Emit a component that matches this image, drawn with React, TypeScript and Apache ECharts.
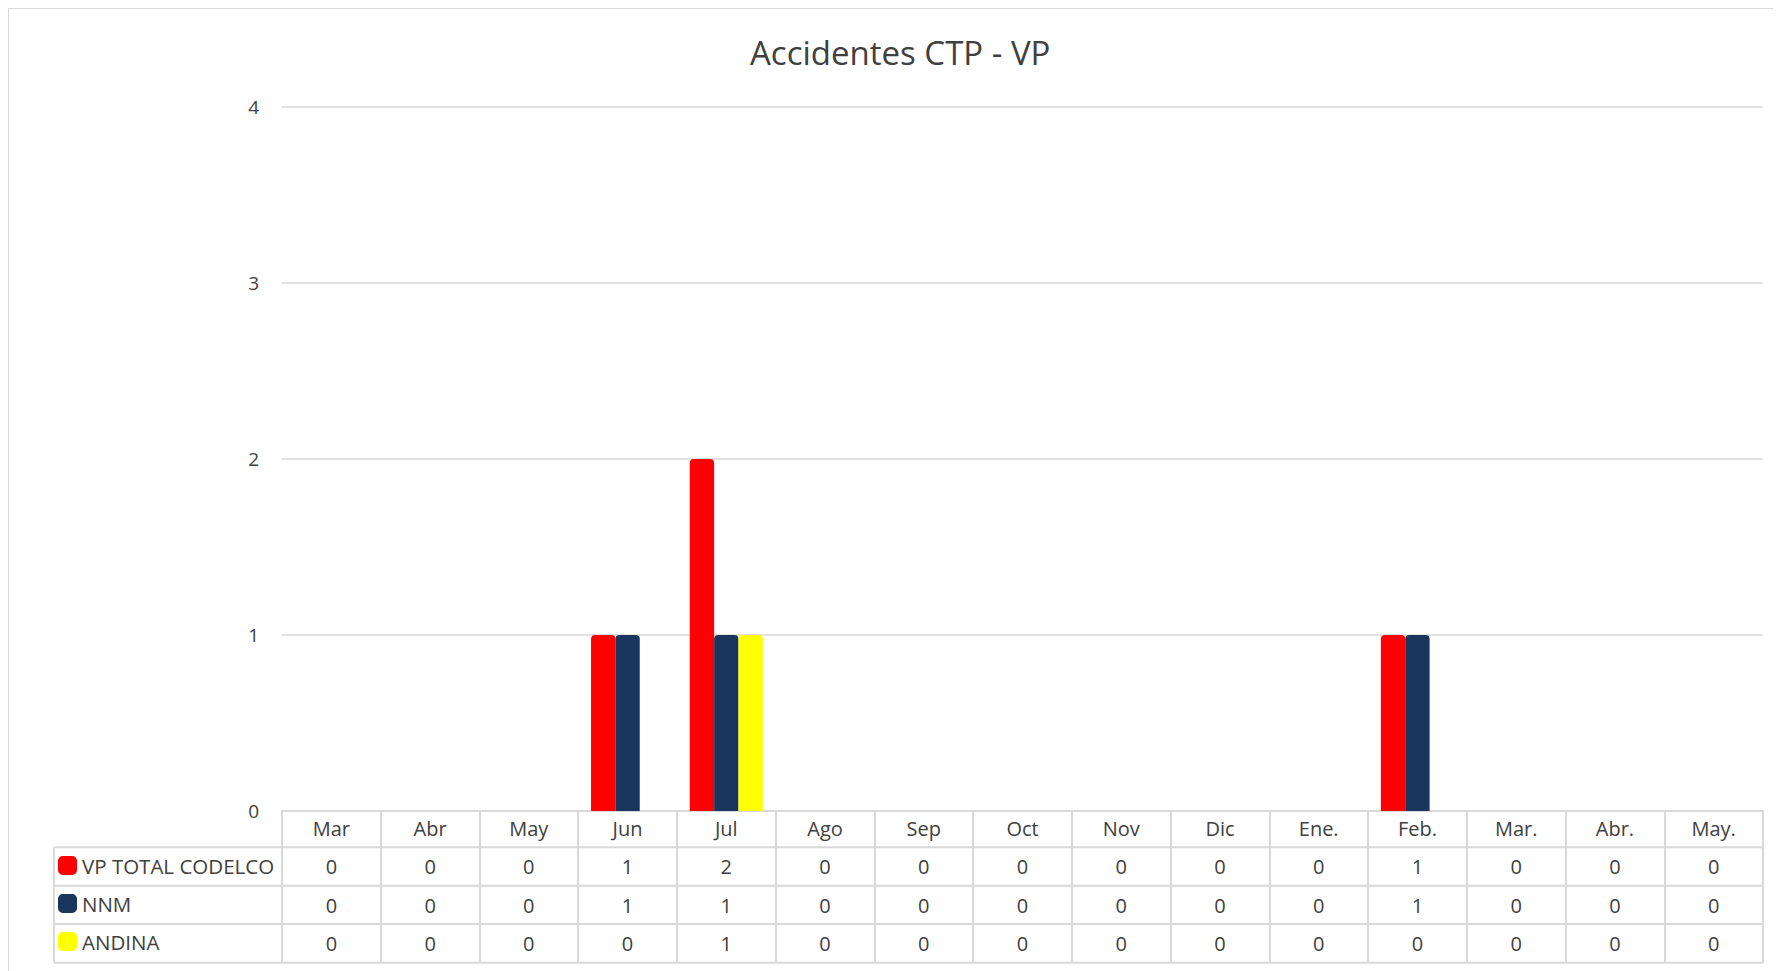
import React, { useEffect, useRef } from 'react';
import * as echarts from 'echarts';

const titleText = 'Accidentes CTP - VP';
const months = ['Mar', 'Abr', 'May', 'Jun', 'Jul', 'Ago', 'Sep', 'Oct', 'Nov', 'Dic', 'Ene.', 'Feb.', 'Mar.', 'Abr.', 'May.'];
const seriesNames = ['VP TOTAL CODELCO', 'NNM', 'ANDINA'];
const vpTotal = [0, 0, 0, 1, 2, 0, 0, 0, 0, 0, 0, 1, 0, 0, 0];
const nnm = [0, 0, 0, 1, 1, 0, 0, 0, 0, 0, 0, 1, 0, 0, 0];
const andina = [0, 0, 0, 0, 1, 0, 0, 0, 0, 0, 0, 0, 0, 0, 0];
const yMin = 0;
const yMax = 4;
const yInterval = 1;

const colors = ['#FF0000', '#1A365D', '#FFFF00'];

export default function App() {
  const ref = useRef<HTMLDivElement>(null);
  useEffect(() => {
    document.documentElement.style.overflow = 'hidden';
    document.body.style.overflow = 'hidden';
    const chart = echarts.init(ref.current!, null, { renderer: 'svg' });
    const font = '"Open Sans", sans-serif';
    const textColor = '#404040';
    const lineColor = '#d9d9d9';
    const rows = [vpTotal, nnm, andina];
    const rowOffsets = [38, 77, 115];
    const gridLeft = 273;
    const gridRightEdge = 1754;
    const tableLeft = 45;
    const rowLines = [838.3, 876.7, 915, 953.7];

    const graphics: any[] = rowLines.map((y) => ({
      type: 'line',
      shape: { x1: tableLeft, y1: y, x2: gridRightEdge, y2: y },
      style: { stroke: lineColor, lineWidth: 2 },
      silent: true,
    }));
    graphics.push({
      type: 'line',
      shape: { x1: tableLeft, y1: rowLines[0], x2: tableLeft, y2: rowLines[3] },
      style: { stroke: lineColor, lineWidth: 2 },
      silent: true,
    });

    const baseLabel = { fontSize: 20, color: textColor, fontFamily: font, lineHeight: 20, margin: 7, interval: 0 };

    chart.setOption({
      animation: false,
      title: {
        text: titleText,
        left: 736,
        top: 22,
        textStyle: { fontSize: 33, fontWeight: 'normal', color: textColor, fontFamily: font, lineHeight: 33 },
      },
      legend: {
        orient: 'vertical',
        left: 49,
        top: 846,
        padding: 0,
        itemWidth: 19,
        itemHeight: 19,
        itemGap: 17,
        icon: 'roundRect',
        selectedMode: false,
        data: seriesNames,
        textStyle: { fontSize: 20.5, lineHeight: 19, color: textColor, fontFamily: font },
      },
      grid: { left: gridLeft, right: 18, top: 98, bottom: 160, containLabel: false },
      xAxis: [
        {
          type: 'category',
          data: months,
          position: 'bottom',
          axisLine: { show: true, lineStyle: { color: lineColor, width: 2 } },
          axisTick: { show: true, length: 152, interval: 0, lineStyle: { color: lineColor, width: 2 } },
          axisLabel: baseLabel,
          splitLine: { show: false },
        },
        ...rows.map((r, i) => ({
          type: 'category',
          data: months,
          position: 'bottom',
          offset: rowOffsets[i],
          axisLine: { show: false },
          axisTick: { show: false },
          splitLine: { show: false },
          axisLabel: { ...baseLabel, formatter: (_v: string, idx: number) => String(r[idx]) },
        })),
      ],
      yAxis: {
        type: 'value',
        min: yMin,
        max: yMax,
        interval: yInterval,
        axisLine: { show: false },
        axisTick: { show: false },
        axisLabel: { fontSize: 19, color: textColor, fontFamily: font, margin: 23 },
        splitLine: { lineStyle: { color: lineColor, width: 1.5 } },
      },
      series: rows.map((r, i) => ({
        name: seriesNames[i],
        type: 'bar',
        xAxisIndex: 0,
        data: r.map((v) => (v === 0 ? null : v)),
        barGap: '0%',
        barCategoryGap: '26%',
        itemStyle: {
          color: colors[i],
          borderRadius: [4, 4, 0, 0],
        },
      })),
      graphic: graphics,
    });
    return () => chart.dispose();
  }, []);
  return (
    <div
      ref={ref}
      style={{ width: 1772, height: 962, borderTop: '1px solid #d9d9d9', borderLeft: '1px solid #d9d9d9' }}
    />
  );
}
